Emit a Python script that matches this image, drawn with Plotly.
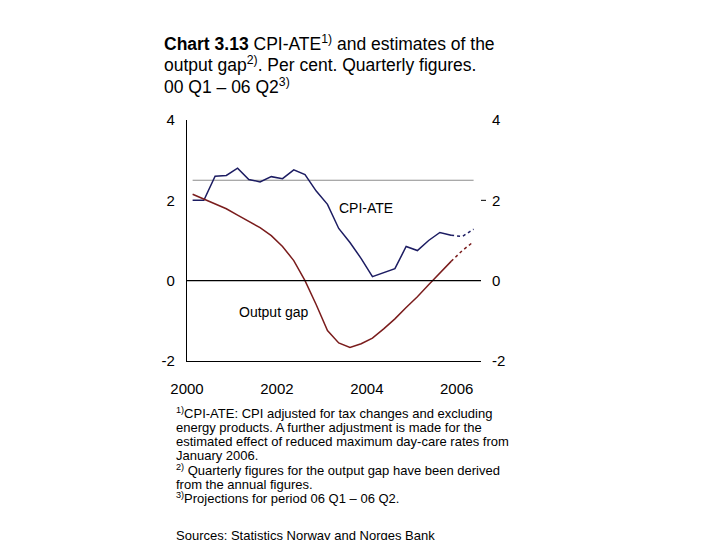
import plotly.graph_objects as go

# quarters 2000 Q1 - 2006 Q2 (last two are projections)
quarters = [f"{y} Q{q}" for y in range(2000, 2007) for q in range(1, 5)][:26]

cpi_ate = [2.0, 2.0, 2.6, 2.62, 2.8, 2.52, 2.46, 2.59,
           2.54, 2.76, 2.64, 2.23, 1.9, 1.3, 0.95, 0.55,
           0.1, 0.2, 0.3, 0.85, 0.75, 1.0, 1.2, 1.13,
           1.1, 1.28]

output_gap = [2.15, 2.03, 1.92, 1.79, 1.63, 1.47, 1.32, 1.12,
              0.85, 0.5, 0.0, -0.6, -1.24, -1.55, -1.66, -1.57,
              -1.43, -1.2, -0.95, -0.67, -0.4, -0.1, 0.2, 0.48,
              0.75, 0.97]

target = [2.5] * 26
n_hist = 24  # 2000 Q1 - 2005 Q4 are outcomes

y_ticks = [-2, 0, 2, 4]
y_labels = ["-2", "0", "2", "4"]
x_ticks = [2000, 2002, 2004, 2006]


def qpos(label):
    y, q = label.split(" Q")
    return int(y) + (int(q) - 0.5) / 4


x = [qpos(q) for q in quarters]

navy = "#1c1c62"
maroon = "#7a1c1c"
font = "Liberation Sans, Arial, sans-serif"

# page has an 8px body margin, so work in reference pixels minus 8
W, H = 712, 532
L, T, R, B = 179, 112, 473, 353
pw, ph = R - L, B - T


def px(xp):
    return (xp - 8 - L) / pw


def py(yp):
    return (B - (yp - 8)) / ph


fig = go.Figure()
fig.add_trace(go.Scatter(x=x, y=target, mode="lines",
                         line=dict(color="#8c8c8c", width=1.2)))
fig.add_trace(go.Scatter(x=x[:n_hist], y=cpi_ate[:n_hist], mode="lines",
                         line=dict(color=navy, width=1.5)))
fig.add_trace(go.Scatter(x=x[n_hist - 1:], y=cpi_ate[n_hist - 1:], mode="lines",
                         line=dict(color=navy, width=1.5, dash="dot")))
fig.add_trace(go.Scatter(x=x[:n_hist], y=output_gap[:n_hist], mode="lines",
                         line=dict(color=maroon, width=1.5)))
fig.add_trace(go.Scatter(x=x[n_hist - 1:], y=output_gap[n_hist - 1:], mode="lines",
                         line=dict(color=maroon, width=1.5, dash="dot")))
# dummy trace to show the right hand axis
fig.add_trace(go.Scatter(x=[2000], y=[0], yaxis="y2", mode="markers",
                         marker=dict(opacity=0), hoverinfo="skip"))

fig.add_shape(type="line", xref="paper", x0=0, x1=1, yref="y", y0=0, y1=0,
              line=dict(color="black", width=1.2))
# small tick on the right axis
fig.add_shape(type="line", xref="paper", x0=1.0, x1=1.0 + 5 / pw,
              yref="y", y0=2, y1=2, line=dict(color="black", width=1))

fig.update_layout(
    width=W, height=H,
    paper_bgcolor="white", plot_bgcolor="white",
    showlegend=False,
    margin=dict(l=L, r=W - R, t=T, b=H - B),
    font=dict(family=font, size=14, color="black"),
    xaxis=dict(range=[2000, 2006.54], tickvals=x_ticks,
               showgrid=False, zeroline=False, showline=True,
               linecolor="black", linewidth=1.2, ticks="",
               tickfont=dict(size=15), ticklabelstandoff=14),
    yaxis=dict(range=[-2, 4], tickvals=y_ticks, ticktext=y_labels,
               showgrid=False, zeroline=False, showline=True,
               linecolor="black", linewidth=1.2, ticks="",
               tickfont=dict(size=15), ticklabelstandoff=8),
    yaxis2=dict(range=[-2, 4], tickvals=y_ticks, ticktext=y_labels,
                overlaying="y", side="right", showgrid=False,
                zeroline=False, showline=False, ticks="",
                tickfont=dict(size=15), ticklabelstandoff=10),
)

title_lines = [
    "<b>Chart 3.13</b> CPI-ATE<sup>1)</sup> and estimates of the",
    "output gap<sup>2)</sup>. Per cent. Quarterly figures.",
    "00 Q1 – 06 Q2<sup>3)</sup>",
]
for i, t in enumerate(title_lines):
    fig.add_annotation(text=t, xref="paper", yref="paper",
                       x=px(162), y=py(43 + 21.5 * i),
                       xanchor="left", yanchor="middle", showarrow=False,
                       font=dict(size=17.5))

fig.add_annotation(text="CPI-ATE", x=2003.98, y=1.8, showarrow=False,
                   font=dict(size=14))
fig.add_annotation(text="Output gap", x=2001.92, y=-0.78, showarrow=False,
                   font=dict(size=14))

notes = [
    "<sup>1)</sup>CPI-ATE: CPI adjusted for tax changes and excluding",
    "energy products. A further adjustment is made for the",
    "estimated effect of reduced maximum day-care rates from",
    "January 2006.",
    "<sup>2)</sup> Quarterly figures for the output gap have been derived",
    "from the annual figures.",
    "<sup>3)</sup>Projections for period 06 Q1 – 06 Q2.",
]
for i, t in enumerate(notes):
    fig.add_annotation(text=t, xref="paper", yref="paper",
                       x=px(174), y=py(413 + 14.2 * i),
                       xanchor="left", yanchor="middle", showarrow=False,
                       font=dict(size=13))
# source line, partly cut by the bottom edge as in the original
fig.add_annotation(text="Sources: Statistics Norway and Norges Bank",
                   xref="paper", yref="paper", x=px(174), y=py(535),
                   xanchor="left", yanchor="middle", showarrow=False,
                   font=dict(size=13))

fig.write_html("out.html")
